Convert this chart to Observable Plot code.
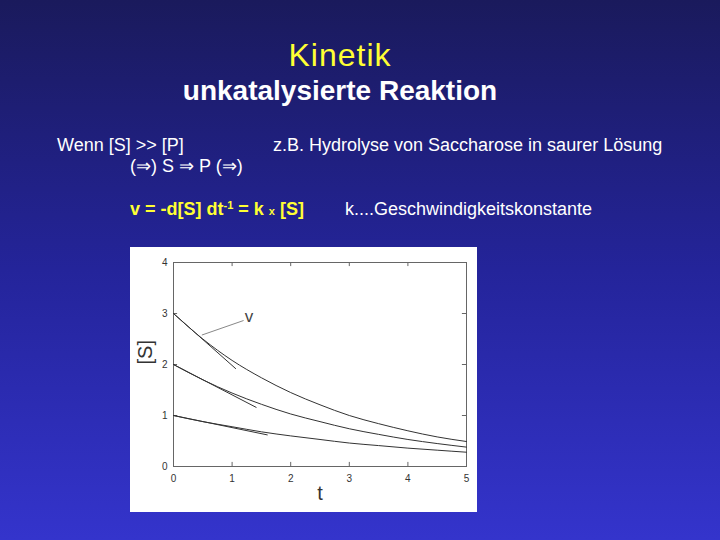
<!DOCTYPE html>
<html>
<head>
<meta charset="utf-8">
<script src="https://cdn.jsdelivr.net/npm/d3@7"></script>
<script src="https://cdn.jsdelivr.net/npm/@observablehq/plot@0.6"></script>
<style>
  html, body { margin: 0; padding: 0; }
  body {
    width: 720px; height: 540px; position: relative; overflow: hidden;
    background: linear-gradient(to bottom, #1a1a5c 0%, #24249a 50%, #3434cc 100%);
    font-family: "Liberation Sans", Arial, Helvetica, sans-serif;
  }
  .t { position: absolute; white-space: nowrap; line-height: 1; }
  #title { left: 0; width: 680px; text-align: center; top: 39px; font-size: 32px; color: #ffff33; letter-spacing: 1px; }
  #subtitle { left: 0; width: 680px; text-align: center; top: 77px; font-size: 28px; font-weight: bold; color: #ffffff; }
  .body18 { font-size: 18px; color: #ffffff; }
  #formula { font-weight: bold; color: #ffff33; }
  #formula sup { font-size: 11px; vertical-align: 6px; line-height: 0; }
  #formula small { font-size: 11px; }
  #chart { position: absolute; left: 130px; top: 247px; background: #ffffff; }
  #chart svg { display: block; }
</style>
</head>
<body>
<div id="title" class="t">Kinetik</div>
<div id="subtitle" class="t">unkatalysierte Reaktion</div>
<div class="t body18" style="left:57px; top:136px;">Wenn [S] &gt;&gt; [P]</div>
<div class="t body18" style="left:273px; top:136px;">z.B. Hydrolyse von Saccharose in saurer Lösung</div>
<div class="t body18" style="left:130px; top:157px;">(⇒) S ⇒ P (⇒)</div>
<div id="formula" class="t body18" style="left:130px; top:200px;">v = -d[S] dt<sup>-1</sup> = k <small>x</small> [S]</div>
<div class="t body18" style="left:345px; top:200px;">k....Geschwindigkeitskonstante</div>
<div id="chart"></div>
<script>
// ---- data ----
const xTicks = [0, 1, 2, 3, 4, 5];
const yTicks = [0, 1, 2, 3, 4];
const tGrid = [0, 0.5, 1, 1.5, 2, 2.5, 3, 3.5, 4, 4.5, 5];
const curveS3 = [3, 2.50, 2.08, 1.74, 1.45, 1.21, 1.00, 0.84, 0.70, 0.58, 0.49];
const curveS2 = [2, 1.70, 1.44, 1.22, 1.03, 0.88, 0.74, 0.63, 0.53, 0.45, 0.38];
const curveS1 = [1, 0.88, 0.78, 0.68, 0.60, 0.53, 0.46, 0.41, 0.36, 0.32, 0.28];
const tangentNames = ["S3", "S2", "S1"];
const tangentT = [[0, 1.06], [0, 1.41], [0, 1.60]];
const tangentS = [[3, 1.92], [2, 1.16], [1, 0.62]];
const vLabel = "v";
const vLabelPos = [1.29, 2.95];
const vLeaderT = [0.49, 1.19];
const vLeaderS = [2.58, 2.86];
const xLabel = "t";
const yLabel = "[S]";

// ---- tables for Plot ----
const curves = [];
[["S3", curveS3], ["S2", curveS2], ["S1", curveS1]].forEach(([name, vals]) => {
  tGrid.forEach((t, i) => curves.push({series: name, t, s: vals[i]}));
});
const tangents = [];
tangentNames.forEach((name, i) => {
  tangents.push({series: name, t: tangentT[i][0], s: tangentS[i][0]});
  tangents.push({series: name, t: tangentT[i][1], s: tangentS[i][1]});
});
const leader = vLeaderT.map((t, i) => ({t, s: vLeaderS[i]}));

const chart = Plot.plot({
  width: 347,
  height: 265,
  marginLeft: 43,
  marginRight: 11,
  marginTop: 15,
  marginBottom: 46,
  style: {background: "#ffffff", fontFamily: "Liberation Sans, Arial, sans-serif"},
  x: {domain: [0, 5]},
  y: {domain: [0, 4]},
  marks: [
    Plot.frame({stroke: "#666", strokeWidth: 1}),
    Plot.ruleX(xTicks, {x: d => d, y1: 0, y2: 0.08, stroke: "#666"}),
    Plot.ruleX(xTicks, {x: d => d, y1: 3.92, y2: 4, stroke: "#666"}),
    Plot.ruleY(yTicks, {y: d => d, x1: 0, x2: 0.07, stroke: "#666"}),
    Plot.ruleY(yTicks, {y: d => d, x1: 4.93, x2: 5, stroke: "#666"}),
    Plot.axisX({ticks: xTicks, tickFormat: d3.format("d"), tickSize: 0, tickPadding: 8, fontSize: 10, fill: "#333", label: null}),
    Plot.axisY({ticks: yTicks, tickFormat: d3.format("d"), tickSize: 0, tickPadding: 6, fontSize: 10, fill: "#333", label: null}),
    Plot.line(curves, {x: "t", y: "s", z: "series", stroke: "#333", strokeWidth: 1, curve: "monotone-x"}),
    Plot.line(tangents, {x: "t", y: "s", z: "series", stroke: "#333", strokeWidth: 1}),
    Plot.line(leader, {x: "t", y: "s", stroke: "#888", strokeWidth: 1}),
    Plot.text([vLabel], {x: vLabelPos[0], y: vLabelPos[1], text: d => d, fontSize: 17, fill: "#444"}),
    Plot.text([xLabel], {frameAnchor: "bottom", dy: 33, text: d => d, fontSize: 20, fill: "#333"}),
    Plot.text([yLabel], {frameAnchor: "left", dx: -28, rotate: -90, text: d => d, fontSize: 20, fill: "#333"})
  ]
});
document.getElementById("chart").appendChild(chart);
</script>
</body>
</html>
